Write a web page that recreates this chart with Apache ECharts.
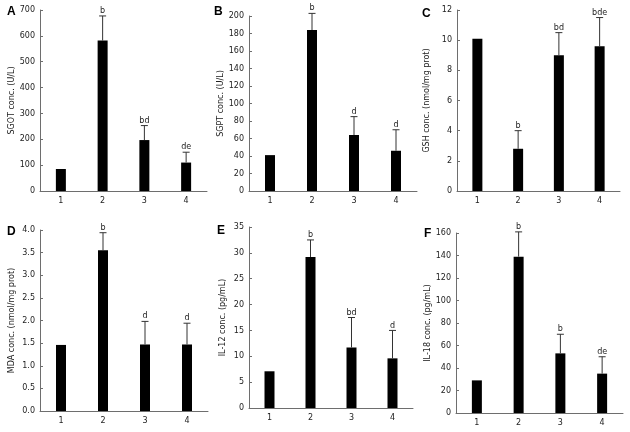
<!DOCTYPE html>
<html>
<head>
<meta charset="utf-8">
<script src="https://cdn.jsdelivr.net/npm/echarts@6/dist/echarts.min.js"></script>
<style>
html,body{margin:0;padding:0;background:#fff;}
#c{width:630px;height:432px;}
</style>
</head>
<body>
<div id="c"></div>
<script>
const categories = ['1', '2', '3', '4'];

const sgotValues = [85, 582, 197, 110];
const sgotErr = [0, 95, 56, 40];
const sgotSig = ['', 'b', 'bd', 'de'];

const sgptValues = [41, 184, 64, 46];
const sgptErr = [0, 19, 21, 24];
const sgptSig = ['', 'b', 'd', 'd'];

const gshValues = [10.1, 2.8, 9.0, 9.6];
const gshErr = [0, 1.2, 1.5, 1.9];
const gshSig = ['', 'b', 'bd', 'bde'];

const mdaValues = [1.46, 3.55, 1.47, 1.47];
const mdaErr = [0, 0.39, 0.51, 0.47];
const mdaSig = ['', 'b', 'd', 'd'];

const il12Values = [7.1, 29.2, 11.7, 9.6];
const il12Err = [0, 3.3, 5.8, 5.4];
const il12Sig = ['', 'b', 'bd', 'd'];

const il18Values = [29, 139, 53, 35];
const il18Err = [0, 22, 17, 15];
const il18Sig = ['', 'b', 'b', 'de'];

const panels = [
  {letter: 'A', name: 'SGOT conc. (U/L)', values: sgotValues, err: sgotErr, sig: sgotSig, max: 700, interval: 100, dec: 0,
   grid: {left: 40, top: 10, width: 167, height: 181}, gap: 24, lx: 7, ly: 6},
  {letter: 'B', name: 'SGPT conc. (U/L)', values: sgptValues, err: sgptErr, sig: sgptSig, max: 200, interval: 20, dec: 0,
   grid: {left: 249, top: 16, width: 168, height: 175}, gap: 23, lx: 214, ly: 6},
  {letter: 'C', name: 'GSH conc. (nmol/mg prot)', values: gshValues, err: gshErr, sig: gshSig, max: 12, interval: 2, dec: 0,
   grid: {left: 457, top: 10, width: 163, height: 181}, gap: 26, lx: 422, ly: 8},
  {letter: 'D', name: 'MDA conc. (nmol/mg prot)', values: mdaValues, err: mdaErr, sig: mdaSig, max: 4, interval: 0.5, dec: 1,
   grid: {left: 40, top: 230, width: 168, height: 181}, gap: 24, lx: 7, ly: 226},
  {letter: 'E', name: 'IL-12 conc. (pg/mL)', values: il12Values, err: il12Err, sig: il12Sig, max: 35, interval: 5, dec: 0,
   grid: {left: 249, top: 227, width: 164, height: 181}, gap: 22, lx: 217, ly: 225},
  {letter: 'F', name: 'IL-18 conc. (pg/mL)', values: il18Values, err: il18Err, sig: il18Sig, max: 160, interval: 20, dec: 0,
   grid: {left: 456, top: 233, width: 167, height: 180}, gap: 20, lx: 424, ly: 228}
];

const FONT = 'DejaVu Sans';
const AXIS_COLOR = '#6e6e6e';

const grids = [], xAxes = [], yAxes = [], series = [], graphics = [];

panels.forEach((p, i) => {
  grids.push(Object.assign({containLabel: false}, p.grid));
  xAxes.push({
    type: 'category', gridIndex: i, data: categories,
    axisLine: {lineStyle: {color: AXIS_COLOR, width: 1}},
    axisTick: {inside: true, length: 3, lineStyle: {color: AXIS_COLOR}},
    axisLabel: {color: '#222', fontFamily: FONT, fontSize: 8, margin: 6},
    splitLine: {show: false}
  });
  yAxes.push({
    type: 'value', gridIndex: i, min: 0, max: p.max, interval: p.interval,
    name: p.name, nameLocation: 'middle', nameRotate: 90, nameGap: p.gap,
    nameTextStyle: {color: '#222', fontFamily: FONT, fontSize: 8},
    axisLine: {show: true, lineStyle: {color: AXIS_COLOR, width: 1}},
    axisTick: {show: true, inside: true, length: 3, lineStyle: {color: AXIS_COLOR}},
    axisLabel: {color: '#222', fontFamily: FONT, fontSize: 8, margin: 5,
      formatter: v => v.toFixed(p.dec)},
    splitLine: {show: false}
  });
  series.push({
    type: 'bar', xAxisIndex: i, yAxisIndex: i, data: p.values, barWidth: 10,
    itemStyle: {color: '#000'}, silent: true, animation: false
  });
  const errData = p.values.map((v, k) => [k, v, p.err[k], p.sig[k]]);
  series.push({
    type: 'custom', xAxisIndex: i, yAxisIndex: i, data: errData, animation: false, silent: true,
    z: 5,
    renderItem: function (params, api) {
      const x = api.value(0), v = api.value(1), e = api.value(2);
      const sig = p.sig[params.dataIndex];
      const base = api.coord([x, v]);
      const top = api.coord([x, v + e]);
      const children = [];
      if (e > 0) {
        children.push({type: 'line', shape: {x1: base[0], y1: base[1], x2: top[0], y2: top[1]},
          style: {stroke: '#333', lineWidth: 1}});
        children.push({type: 'line', shape: {x1: top[0] - 3.5, y1: top[1], x2: top[0] + 3.5, y2: top[1]},
          style: {stroke: '#333', lineWidth: 1}});
      }
      if (sig) {
        children.push({type: 'text', x: top[0], y: top[1] - 1,
          style: {text: sig, fill: '#222', font: '8px "' + FONT + '"', textAlign: 'center', textVerticalAlign: 'bottom'}});
      }
      return {type: 'group', children: children};
    }
  });
  graphics.push({type: 'text', left: p.lx, top: p.ly,
    style: {text: p.letter, fill: '#000', font: 'bold 12px Arial, "Liberation Sans"'}});
});

const chart = echarts.init(document.getElementById('c'), null, {renderer: 'canvas'});
chart.setOption({
  backgroundColor: '#fff',
  animation: false,
  grid: grids,
  xAxis: xAxes,
  yAxis: yAxes,
  series: series,
  graphic: graphics
});
</script>
</body>
</html>
